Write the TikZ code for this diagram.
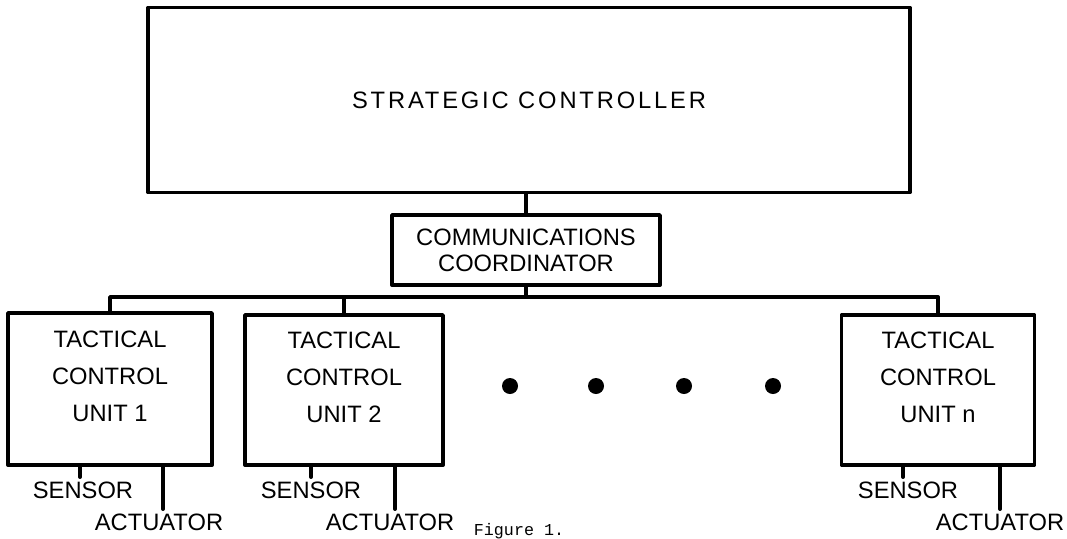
\documentclass[tikz,border=0pt]{standalone}
\usepackage{fontspec}
\setmainfont{Liberation Sans}
\setmonofont{Liberation Mono}
\usetikzlibrary{positioning}

\tikzset{
  blk/.style={draw,line width=2.2pt,align=center,inner sep=0pt},
  dot/.style={circle,fill,inner sep=0pt,minimum size=0.32cm},
  io/.style={inner sep=1.5pt,font=\fontsize{13.5}{16}\selectfont}
}

\begin{document}
\begin{tikzpicture}[x=0.02cm,y=-0.02cm,line width=2.2pt,line cap=round,line join=round,
  font=\fontsize{13.5}{16}\selectfont]
  \useasboundingbox (0,0) rectangle (1067,538);
  % controller and coordinator
  \node[blk,minimum width=15.24cm,minimum height=3.7cm,font=\fontsize{13.5}{16}\selectfont\addfontfeature{LetterSpace=12}] (strat) at (529,100) {STRATEGIC CONTROLLER};
  \node[blk,minimum width=5.36cm,minimum height=1.4cm,font=\fontsize{13.5}{14.7}\selectfont] (comm) at (526,250) {COMMUNICATIONS\\COORDINATOR};
  % tactical units
  \node[blk,minimum width=4.08cm,minimum height=3.04cm,text depth=0.5cm,font=\fontsize{13.5}{21}\selectfont] (tcu1) at (110,389) {TACTICAL\\CONTROL\\UNIT 1};
  \node[blk,minimum width=3.96cm,minimum height=3.0cm,text depth=0.5cm,font=\fontsize{13.5}{21}\selectfont] (tcu2) at (344,390) {TACTICAL\\CONTROL\\UNIT 2};
  \node[blk,minimum width=3.86cm,minimum height=3.0cm,text depth=0.5cm,font=\fontsize{13.5}{21}\selectfont] (tcun) at (938,390) {TACTICAL\\CONTROL\\UNIT n};
  \foreach \x [count=\i] in {510,596,684,773}
    \node[dot] (d\i) at (\x,386) {};
  % bus
  \coordinate (bus) at (0,297);
  \draw (comm.north) -- (comm.north |- strat.south);
  \draw (comm.south) -- (comm.south |- bus);
  \draw (tcu1.north) -- (tcu1.north |- bus) -- (tcun.north |- bus) -- (tcun.north);
  \draw (tcu2.north) -- (tcu2.north |- bus);
  % sensors and actuators
  \node[io] (sen1) at (83,490) {SENSOR};
  \node[io] (act1) at (159,522) {ACTUATOR};
  \node[io] (sen2) at (311,490) {SENSOR};
  \node[io] (act2) at (390,522) {ACTUATOR};
  \node[io] (senn) at (908,490) {SENSOR};
  \node[io] (actn) at (1000,522) {ACTUATOR};
  \draw ([xshift=-0.06cm]sen1.north) -- ([xshift=-0.06cm]sen1.north |- tcu1.south);
  \draw ([xshift=0.08cm]act1.north) -- ([xshift=0.08cm]act1.north |- tcu1.south);
  \draw (sen2.north) -- (sen2.north |- tcu2.south);
  \draw ([xshift=0.1cm]act2.north) -- ([xshift=0.1cm]act2.north |- tcu2.south);
  \draw ([xshift=-0.1cm]senn.north) -- ([xshift=-0.1cm]senn.north |- tcun.south);
  \draw (actn.north) -- (actn.north |- tcun.south);
  \node[font=\ttfamily\fontsize{9.5}{11}\selectfont,anchor=base west,inner sep=0pt] (fig) at (472,535) {Figure 1.};
\end{tikzpicture}
\end{document}
